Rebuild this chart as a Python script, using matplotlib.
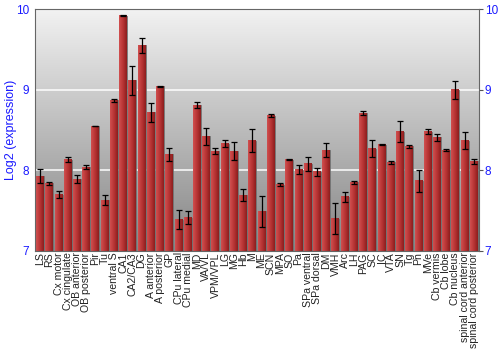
import numpy as np
import matplotlib
matplotlib.use('Agg')
import matplotlib.pyplot as plt
from matplotlib.colors import LinearSegmentedColormap

plt.rcParams['font.family'] = ['Liberation Sans', 'DejaVu Sans']

# regions and expression values (log2) with error
regions = ['LS', 'RS', 'Cx motor', 'Cx cingulate', 'OB anterior', 'OB posterior',
           'Pir', 'Tu', 'ventral S', 'CA1', 'CA2/CA3', 'DG', 'A anterior',
           'A posterior', 'GP', 'CPu lateral', 'CPu medial', 'MD', 'VA/VL',
           'VPM/VPL', 'LG', 'MG', 'Hb', 'M', 'ME', 'SCN', 'MPA', 'SO', 'Pa',
           'SPa ventral', 'SPa dorsal', 'DM', 'VMH', 'Arc', 'LH', 'PAG', 'SC',
           'IC', 'VTA', 'SN', 'Tg', 'Pn', 'MVe', 'Cb vermis', 'Cb lobe',
           'Cb nucleus', 'spinal cord anterior', 'spinal cord posterior']
values = [7.93, 7.84, 7.70, 8.13, 7.89, 8.04, 8.55, 7.63, 8.87, 9.92, 9.12, 9.55,
          8.72, 9.04, 8.20, 7.39, 7.41, 8.81, 8.42, 8.24, 8.33, 8.24, 7.69, 8.37,
          7.49, 8.68, 7.82, 8.13, 8.01, 8.08, 7.98, 8.25, 7.40, 7.67, 7.85, 8.71,
          8.27, 8.32, 8.10, 8.48, 8.30, 7.87, 8.48, 8.41, 8.25, 9.00, 8.37, 8.11]
errors = [0.09, 0.02, 0.04, 0.03, 0.05, 0.02, 0.005, 0.06, 0.02, 0.01, 0.18, 0.09,
          0.12, 0.005, 0.08, 0.12, 0.08, 0.035, 0.11, 0.04, 0.045, 0.11, 0.075, 0.14,
          0.19, 0.015, 0.02, 0.005, 0.05, 0.085, 0.05, 0.09, 0.19, 0.065, 0.02, 0.02,
          0.11, 0.005, 0.02, 0.13, 0.02, 0.14, 0.03, 0.04, 0.015, 0.11, 0.11, 0.03]

ymin, ymax = 7, 10
blue = '#1a1aff'

fig = plt.figure(figsize=(5, 3.5), dpi=100)
ax = fig.add_axes([0.07, 0.283, 0.888, 0.691])

x = np.arange(len(regions))
ax.set_xlim(-0.55, len(regions) - 0.45)
ax.set_ylim(ymin, ymax)

# background gradient, light at top to gray at bottom
bg = LinearSegmentedColormap.from_list('bg', ['#858585', '#f2f2f2'])
grad = np.linspace(0, 1, 256).reshape(-1, 1)
ax.imshow(grad, cmap=bg, origin='lower', aspect='auto',
          extent=[-0.55, len(regions) - 0.45, ymin, ymax], zorder=0)

for g in [8, 9]:
    ax.axhline(g, color='white', lw=1.2, alpha=0.9, zorder=1)

# bars with a horizontal red gradient
barcm = LinearSegmentedColormap.from_list('bar', ['#d05050', '#b83434', '#8c1e1e'])
hgrad = np.linspace(0, 1, 64).reshape(1, -1)
w = 0.86
for xi, v in zip(x, values):
    ax.imshow(hgrad, cmap=barcm, aspect='auto',
              extent=[xi - w / 2, xi + w / 2, ymin, v], zorder=2)
    ax.plot([xi + w / 2, xi + w / 2], [ymin, v], color='#6e6e6e', lw=0.6, zorder=2)

ax.errorbar(x, values, yerr=errors, fmt='none', ecolor='black', elinewidth=0.9,
            capsize=2.2, capthick=0.9, zorder=3)

ax.set_xticks(x)
ax.set_xticklabels(regions, rotation=90, fontsize=7.6, color='#222222')
ax.tick_params(axis='x', length=0, pad=1)
ax.set_yticks([7, 8, 9, 10])
ax.tick_params(axis='y', labelcolor=blue, labelsize=8.5, color='#555555', length=3,
               right=True, labelright=True, left=False, pad=1)
ax.set_ylabel('Log2 (expression)', color=blue, fontsize=9)
ax.yaxis.set_label_coords(-0.04, 0.5)

for s in ['top', 'right', 'left', 'bottom']:
    ax.spines[s].set_color('#666666')
    ax.spines[s].set_linewidth(0.8)

fig.savefig('out.png', dpi=100)
